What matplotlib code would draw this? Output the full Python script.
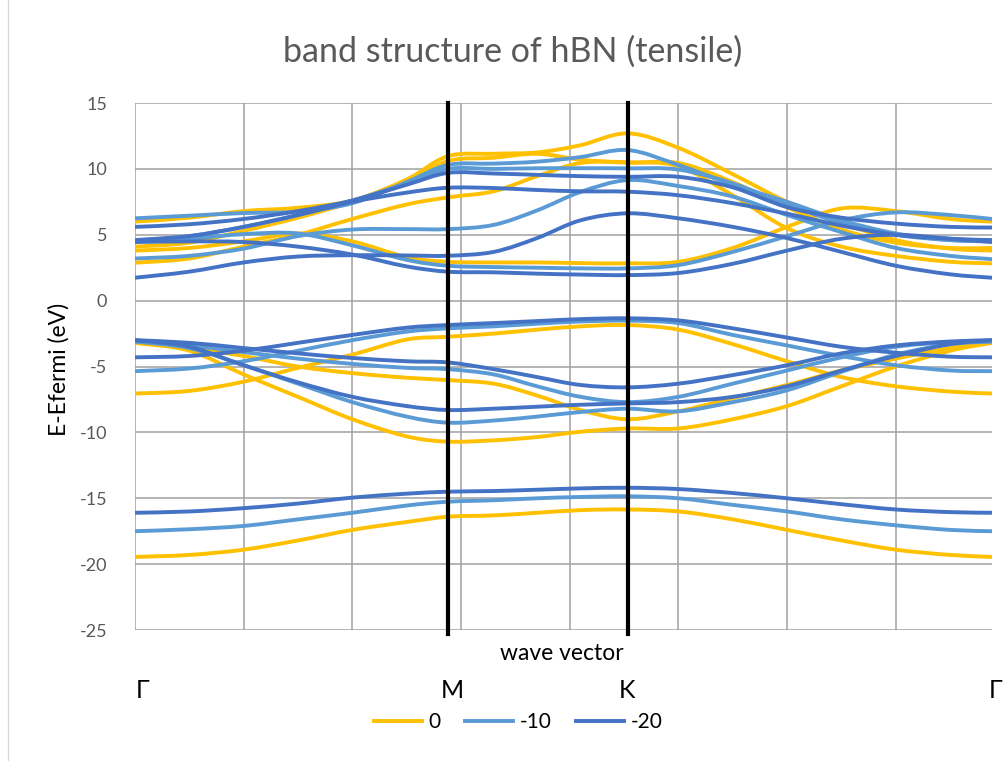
import matplotlib.pyplot as plt
from matplotlib.path import Path
from matplotlib.patches import PathPatch
from matplotlib.lines import Line2D

plt.rcParams['font.family'] = ['Lato', 'DejaVu Sans']
plt.rcParams['axes.unicode_minus'] = False

# positions along the k-path: Γ -> M -> K -> Γ
k_M = 2.88
k_K = 4.535
k_end = 7.885
kpts = [0, 0.5, 1.0, 1.5, 2.0, 2.5, k_M, 3.3, 3.7, 4.1, k_K,
        5.0, 5.5, 6.0, 6.5, 7.0, 7.5, k_end]

# strain 0
bands_0 = [
    [-19.45, -19.3, -18.9, -18.2, -17.4, -16.8, -16.4, -16.3, -16.1, -15.9, -15.85, -16.0, -16.6, -17.4, -18.2, -18.9, -19.3, -19.45],
    [-3.2, -3.8, -5.6, -7.3, -9.0, -10.3, -10.7, -10.6, -10.35, -9.95, -9.7, -9.7, -9.0, -8.0, -6.5, -5.0, -3.8, -3.2],
    [-3.2, -3.6, -4.2, -5.0, -5.5, -5.85, -6.03, -6.3, -7.2, -8.3, -9.0, -8.4, -7.4, -6.4, -5.3, -4.4, -3.6, -3.2],
    [-7.05, -6.85, -6.15, -5.1, -4.1, -2.95, -2.74, -2.5, -2.2, -1.95, -1.85, -2.2, -3.3, -4.6, -5.8, -6.5, -6.9, -7.05],
    [3.8, 4.0, 4.5, 5.1, 4.5, 3.3, 2.95, 2.9, 2.9, 2.85, 2.83, 2.95, 4.0, 5.6, 7.0, 6.8, 6.2, 6.0],
    [2.88, 3.2, 4.1, 5.0, 6.2, 7.3, 7.84, 8.3, 9.45, 10.45, 10.5, 10.2, 8.0, 5.5, 4.1, 3.4, 2.95, 2.83],
    [4.1, 4.4, 5.3, 6.3, 7.5, 9.0, 10.6, 10.85, 11.15, 10.7, 10.47, 10.45, 9.0, 7.1, 5.4, 4.4, 4.0, 4.0],
    [6.0, 6.3, 6.8, 7.05, 7.6, 9.2, 10.97, 11.15, 11.25, 11.8, 12.7, 11.6, 9.6, 7.5, 5.9, 4.6, 3.95, 3.8],
]

# strain -10
bands_10 = [
    [-17.5, -17.35, -17.1, -16.6, -16.1, -15.55, -15.26, -15.15, -15.0, -14.9, -14.85, -15.0, -15.5, -16.0, -16.6, -17.05, -17.4, -17.5],
    [-3.1, -3.6, -4.9, -6.3, -7.7, -8.8, -9.26, -9.1, -8.8, -8.45, -8.2, -8.4, -7.7, -6.8, -5.4, -4.1, -3.3, -3.1],
    [-3.1, -3.4, -3.9, -4.4, -4.8, -5.1, -5.2, -5.6, -6.5, -7.3, -7.7, -7.3, -6.3, -5.3, -4.3, -3.5, -3.15, -3.1],
    [-5.35, -5.15, -4.6, -3.8, -3.0, -2.35, -2.1, -1.95, -1.75, -1.58, -1.52, -1.7, -2.6, -3.4, -4.2, -4.9, -5.3, -5.35],
    [4.5, 4.7, 5.05, 5.1, 4.2, 3.1, 2.65, 2.55, 2.5, 2.45, 2.45, 2.7, 3.7, 4.9, 6.1, 6.7, 6.5, 6.2],
    [3.2, 3.4, 3.95, 4.9, 5.4, 5.43, 5.43, 5.75, 6.85, 8.25, 9.15, 8.7, 7.9, 6.5, 5.2, 4.0, 3.4, 3.15],
    [4.55, 4.9, 5.6, 6.5, 7.6, 8.9, 10.0, 10.0, 10.05, 10.05, 10.04, 9.95, 8.9, 7.3, 5.9, 5.0, 4.6, 4.55],
    [6.25, 6.45, 6.65, 6.75, 7.4, 9.0, 10.3, 10.4, 10.55, 10.9, 11.43, 10.3, 8.8, 7.5, 6.1, 5.1, 4.6, 4.5],
]

# strain -20
bands_20 = [
    [-16.1, -16.0, -15.75, -15.4, -14.95, -14.65, -14.5, -14.45, -14.35, -14.25, -14.2, -14.3, -14.6, -15.0, -15.45, -15.85, -16.05, -16.1],
    [-3.0, -3.5, -4.9, -6.2, -7.3, -8.0, -8.3, -8.2, -8.05, -7.9, -7.8, -7.7, -7.3, -6.5, -5.3, -4.2, -3.3, -3.0],
    [-3.0, -3.2, -3.6, -4.0, -4.35, -4.6, -4.69, -5.2, -5.8, -6.4, -6.58, -6.3, -5.65, -4.9, -4.0, -3.4, -3.1, -3.0],
    [-4.3, -4.2, -3.8, -3.2, -2.6, -2.05, -1.85, -1.7, -1.55, -1.4, -1.34, -1.5, -2.1, -2.8, -3.5, -3.95, -4.25, -4.3],
    [4.45, 4.5, 4.45, 4.1, 3.5, 2.6, 2.2, 2.15, 2.05, 1.98, 1.94, 2.1, 2.8, 3.8, 4.7, 5.0, 4.7, 4.45],
    [1.74, 2.2, 2.9, 3.35, 3.45, 3.43, 3.41, 3.7, 4.75, 6.1, 6.63, 6.25, 5.6, 4.75, 3.7, 2.65, 2.0, 1.74],
    [4.6, 4.9, 5.6, 6.5, 7.5, 8.2, 8.57, 8.55, 8.4, 8.3, 8.27, 8.0, 7.4, 6.6, 5.7, 5.0, 4.7, 4.6],
    [5.6, 5.8, 6.2, 6.8, 7.6, 8.8, 9.7, 9.65, 9.55, 9.45, 9.4, 9.4, 8.6, 7.1, 6.3, 5.85, 5.6, 5.55],
]

series_labels = ['0', '-10', '-20']
series_colors = ['#FFC000', '#5B9BD5', '#4472C4']
point_names = ['Γ', 'M', 'K', 'Γ']
point_fig_x = [0.141, 0.449, 0.622, 0.988]


def smooth_path(xs, ys):
    # cubic Bezier through every point, Catmull-Rom style tangents
    n = len(xs)
    verts = [(xs[0], ys[0])]
    codes = [Path.MOVETO]
    for i in range(n - 1):
        x0, y0 = (xs[i - 1], ys[i - 1]) if i > 0 else (xs[i], ys[i])
        x1, y1 = xs[i], ys[i]
        x2, y2 = xs[i + 1], ys[i + 1]
        x3, y3 = (xs[i + 2], ys[i + 2]) if i + 2 < n else (x2, y2)
        verts.append((x1 + (x2 - x0) / 6, y1 + (y2 - y0) / 6))
        verts.append((x2 - (x3 - x1) / 6, y2 - (y3 - y1) / 6))
        verts.append((x2, y2))
        codes += [Path.CURVE4] * 3
    return Path(verts, codes)


fig = plt.figure(figsize=(10.08, 7.61), dpi=100)
ax = fig.add_axes([0.1339, 0.1721, 0.8502, 0.6925])

for bands, color in zip([bands_0, bands_10, bands_20], series_colors):
    for band in bands:
        ax.add_patch(PathPatch(smooth_path(kpts, band), fill=False,
                               edgecolor=color, lw=2.8, capstyle='round',
                               joinstyle='round', zorder=3))

# high-symmetry point markers
for k in [k_M, k_K]:
    ax.axvline(k, ymin=-0.008, ymax=1, color='black', lw=3, zorder=5,
               clip_on=False)

ax.set_xlim(0, k_end)
ax.set_ylim(-25, 15)
ax.set_xticks(range(0, 8))
ax.set_xticklabels([])
ax.set_yticks(range(-25, 16, 5))
ax.tick_params(length=0, labelsize=13, labelcolor='#595959', pad=20)
ax.grid(True, color='#a0a0a0', lw=1.1)
ax.set_axisbelow(True)
for sp in ax.spines.values():
    sp.set_visible(False)

fig.text(0.509, 0.932, 'band structure of hBN (tensile)', ha='center',
         va='center', fontsize=24.5, color='#595959')
fig.text(0.058, 0.514, 'E-Efermi (eV)', rotation=90, ha='center',
         va='center', fontsize=16.5, color='black')
fig.text(0.5575, 0.141, 'wave vector', ha='center', va='center',
         fontsize=16.5, color='black')
for name, fx in zip(point_names, point_fig_x):
    fig.text(fx, 0.093, name, ha='center', va='center', fontsize=18)

handles = [Line2D([], [], color=c, lw=2.8) for c in series_colors]
fig.legend(handles, series_labels, loc='center', bbox_to_anchor=(0.514, 0.051),
           ncol=3, frameon=False, fontsize=15, handlelength=2.3,
           handletextpad=0.3, columnspacing=1.2)

# chart-area border on the left
fig.add_artist(Line2D([0.008, 0.008], [0, 1], color='#d9d9d9', lw=1,
                      transform=fig.transFigure))

fig.savefig('out.png', dpi=100)
